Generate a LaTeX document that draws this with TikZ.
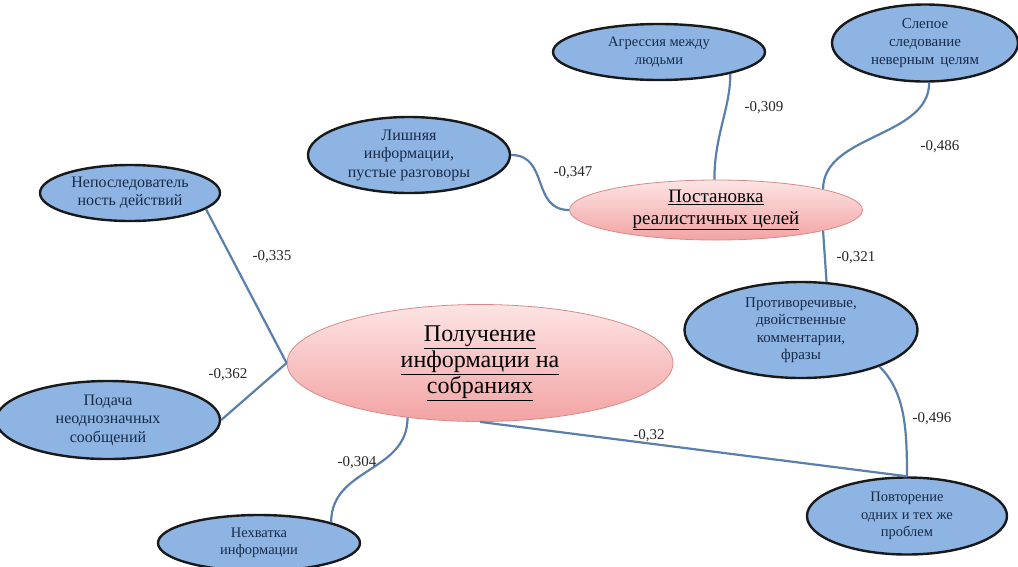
\documentclass[tikz,border=0pt]{standalone}
\usepackage{fontspec}
\setmainfont{Liberation Serif}
\newfontfamily\cellfont{Liberation Serif}
\usetikzlibrary{shapes.geometric,positioning}

\definecolor{cellblue}{HTML}{8DB4E2}
\definecolor{inkblue}{HTML}{1A2B48}
\definecolor{wireblue}{HTML}{5A7FAA}
\definecolor{rosetop}{HTML}{FDE4E4}
\definecolor{rosebot}{HTML}{F3A3A3}
\definecolor{roseedge}{HTML}{D88A8A}

\begin{document}
\begin{tikzpicture}[
    x=1pt, y=-1pt,
    factor/.style={ellipse, draw=black!90, line width=2.4pt, fill=cellblue, inner sep=0pt, align=center, text=inkblue, font=\cellfont\fontsize{14.5}{17.5}\selectfont},
    bigfactor/.style={factor, font=\cellfont\fontsize{16}{18.5}\selectfont},
    core/.style={ellipse, draw=roseedge, line width=0.8pt, top color=rosetop, bottom color=rosebot, inner sep=0pt, align=center},
    link/.style={wireblue, line width=2.2pt},
    weight/.style={font=\cellfont\fontsize{15}{17}\selectfont, text=black!85}
]
    \useasboundingbox (0,0) rectangle (1018,566);

    % Central factors
    \node[core, minimum width=386pt, minimum height=117pt, font=\cellfont\fontsize{24}{26}\selectfont] (info) at (480,363)
        {\underline{Получение}\\\underline{информации на}\\\underline{собраниях}};
    \node[core, minimum width=293pt, minimum height=60pt, font=\cellfont\fontsize{19}{22}\selectfont] (goals) at (716,210)
        {\underline{Постановка}\\\underline{реалистичных целей}};

    % Factors around goals
    \node[factor, minimum width=212pt, minimum height=56pt] (aggr) at (659,52) {Агрессия между\\людьми};
    \node[factor, minimum width=186pt, minimum height=77pt, font=\cellfont\fontsize{15}{18}\selectfont] (blind) at (925,43) {Слепое\\следование\\неверным\hspace{0.15em} целям};
    \node[bigfactor, minimum width=202pt, minimum height=76pt] (extra) at (409,155) {Лишняя\\информации,\\пустые разговоры};
    \node[factor, minimum width=233pt, minimum height=96pt, font=\cellfont\fontsize{15}{17.5}\selectfont] (contra) at (801,330) {Противоречивые,\\двойственные\\комментарии,\\фразы};
    \node[factor, minimum width=200pt, minimum height=77pt] (repeat) at (907,516) {Повторение\\одних и тех же\\проблем};

    % Factors around info
    \node[bigfactor, minimum width=180pt, minimum height=56pt] (incons) at (130,193) {Непоследователь\\ность действий};
    \node[bigfactor, minimum width=224pt, minimum height=78pt] (ambig) at (108,420) {Подача\\неоднозначных\\сообщений};
    \node[factor, minimum width=202pt, minimum height=56pt] (lack) at (259,543) {Нехватка\\информации};

    % Links
    \draw[link] (extra.east) .. controls +(38,0) and +(-38,0) .. (goals.west);
    \draw[link] (aggr.-17) .. controls +(0,35) and +(0,-45) .. (goals.93);
    \draw[link] (blind.-84) .. controls +(0,55) and +(0,-55) .. (goals.11);
    \draw[link] (goals.-11) -- (contra.62);
    \draw[link] (contra.-25) .. controls +(25,25) and +(0,-50) .. (repeat.north);
    \draw[link] (incons.-12) -- (info.west);
    \draw[link] (ambig.east) -- (info.west);
    \draw[link] (info.-143) .. controls +(0,55) and +(0,-55) .. (lack.16);
    \draw[link] (info.south) -- (repeat.north);

    % Weights
    \node[weight] (w1) at (764,108) {-0,309};
    \node[weight] (w2) at (940,147) {-0,486};
    \node[weight] (w3) at (573,173) {-0,347};
    \node[weight] (w4) at (856,258) {-0,321};
    \node[weight] (w5) at (272,257) {-0,335};
    \node[weight] (w6) at (228,375) {-0,362};
    \node[weight] (w7) at (357,463) {-0,304};
    \node[weight] (w8) at (649,436) {-0,32};
    \node[weight] (w9) at (932,419) {-0,496};
\end{tikzpicture}
\end{document}
